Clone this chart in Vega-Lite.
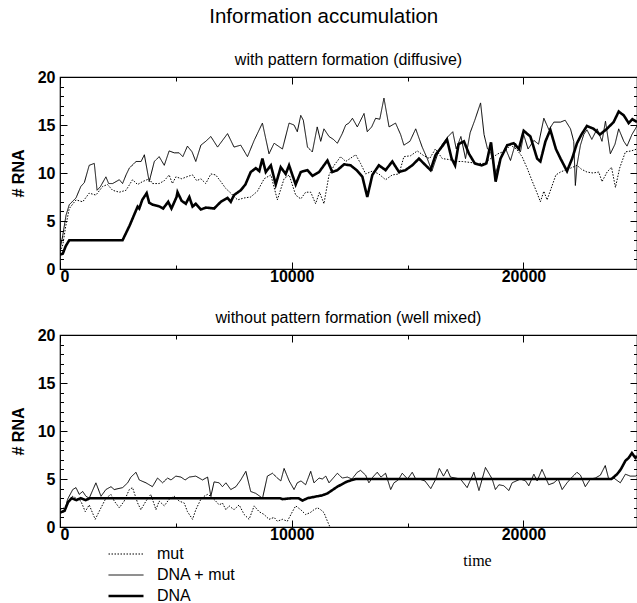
{
"$schema": "https://vega.github.io/schema/vega-lite/v6.json",
"background": "white",
"padding": {"left": 9, "top": 6, "right": 0, "bottom": 0},
"title": {"text": "Information accumulation", "fontSize": 20.5, "fontWeight": "normal", "font": "Liberation Sans", "color": "black", "anchor": "middle", "offset": 24},
"spacing": 24,
"config": {
  "view": {"stroke": "black", "strokeWidth": 1.2},
  "font": "Liberation Sans",
  "axis": {"grid": false, "domain": false, "tickColor": "black", "tickWidth": 1, "labelColor": "black", "titleColor": "black", "labelFont": "Liberation Sans", "labelFontSize": 16, "labelFontWeight": "bold", "titleFont": "Liberation Sans", "titleFontSize": 16, "titleFontWeight": "bold"},
  "title": {"fontSize": 16, "fontWeight": "normal", "color": "black", "font": "Liberation Sans"},
  "legend": {"title": null, "orient": "none", "legendX": 47, "legendY": 212, "symbolType": "stroke", "symbolSize": 1225, "symbolStrokeColor": "black", "labelFontSize": 16, "labelFont": "Liberation Sans", "labelColor": "black", "clipHeight": 14, "rowPadding": 5, "labelOffset": 12, "padding": 0}
},
"resolve": {"legend": {"strokeDash": "independent", "strokeWidth": "independent"}},
"datasets": {
"top": [
{"s":"DNA","t":0,"v":1.5},{"s":"DNA","t":120,"v":1.6},{"s":"DNA","t":250,"v":2.4},{"s":"DNA","t":400,"v":3.0},{"s":"DNA","t":2700,"v":3.0},{"s":"DNA","t":3000,"v":4.5},{"s":"DNA","t":3350,"v":6.5},{"s":"DNA","t":3420,"v":6.3},{"s":"DNA","t":3550,"v":7.2},{"s":"DNA","t":3740,"v":7.9},{"s":"DNA","t":3850,"v":6.9},{"s":"DNA","t":4000,"v":6.7},{"s":"DNA","t":4300,"v":6.5},{"s":"DNA","t":4450,"v":6.3},{"s":"DNA","t":4670,"v":7.0},{"s":"DNA","t":4810,"v":6.3},{"s":"DNA","t":5030,"v":7.5},{"s":"DNA","t":5070,"v":8.0},{"s":"DNA","t":5250,"v":7.1},{"s":"DNA","t":5430,"v":6.8},{"s":"DNA","t":5580,"v":7.5},{"s":"DNA","t":5720,"v":6.5},{"s":"DNA","t":5860,"v":6.8},{"s":"DNA","t":6080,"v":6.2},{"s":"DNA","t":6300,"v":6.4},{"s":"DNA","t":6650,"v":6.3},{"s":"DNA","t":6940,"v":7.0},{"s":"DNA","t":7230,"v":7.4},{"s":"DNA","t":7370,"v":7.0},{"s":"DNA","t":7510,"v":7.7},{"s":"DNA","t":7800,"v":8.2},{"s":"DNA","t":8000,"v":8.8},{"s":"DNA","t":8230,"v":10.1},{"s":"DNA","t":8450,"v":10.5},{"s":"DNA","t":8600,"v":10.2},{"s":"DNA","t":8735,"v":11.5},{"s":"DNA","t":8880,"v":10.1},{"s":"DNA","t":9100,"v":10.8},{"s":"DNA","t":9310,"v":8.8},{"s":"DNA","t":9525,"v":10.6},{"s":"DNA","t":9740,"v":9.9},{"s":"DNA","t":9885,"v":10.8},{"s":"DNA","t":10170,"v":8.8},{"s":"DNA","t":10390,"v":10.1},{"s":"DNA","t":10680,"v":10.3},{"s":"DNA","t":10900,"v":9.7},{"s":"DNA","t":11180,"v":10.1},{"s":"DNA","t":11540,"v":11.3},{"s":"DNA","t":11750,"v":10.1},{"s":"DNA","t":11970,"v":10.3},{"s":"DNA","t":12260,"v":10.9},{"s":"DNA","t":12540,"v":10.8},{"s":"DNA","t":12800,"v":10.3},{"s":"DNA","t":13050,"v":9.6},{"s":"DNA","t":13260,"v":7.5},{"s":"DNA","t":13480,"v":9.8},{"s":"DNA","t":13760,"v":10.8},{"s":"DNA","t":14050,"v":10.3},{"s":"DNA","t":14340,"v":11.2},{"s":"DNA","t":14630,"v":10.1},{"s":"DNA","t":14910,"v":10.3},{"s":"DNA","t":15200,"v":10.8},{"s":"DNA","t":15490,"v":11.5},{"s":"DNA","t":15780,"v":10.8},{"s":"DNA","t":15990,"v":10.3},{"s":"DNA","t":16210,"v":11.9},{"s":"DNA","t":16500,"v":12.8},{"s":"DNA","t":16700,"v":13.5},{"s":"DNA","t":16900,"v":11.5},{"s":"DNA","t":17050,"v":10.8},{"s":"DNA","t":17200,"v":13.0},{"s":"DNA","t":17430,"v":13.3},{"s":"DNA","t":17650,"v":12.0},{"s":"DNA","t":17900,"v":11.0},{"s":"DNA","t":18200,"v":10.8},{"s":"DNA","t":18400,"v":11.0},{"s":"DNA","t":18600,"v":13.2},{"s":"DNA","t":18800,"v":9.1},{"s":"DNA","t":19010,"v":11.5},{"s":"DNA","t":19300,"v":12.9},{"s":"DNA","t":19580,"v":13.1},{"s":"DNA","t":19800,"v":12.5},{"s":"DNA","t":20010,"v":14.4},{"s":"DNA","t":20300,"v":13.8},{"s":"DNA","t":20590,"v":11.5},{"s":"DNA","t":20730,"v":11.2},{"s":"DNA","t":20950,"v":13.3},{"s":"DNA","t":21160,"v":14.5},{"s":"DNA","t":21400,"v":12.5},{"s":"DNA","t":21600,"v":11.5},{"s":"DNA","t":21880,"v":10.2},{"s":"DNA","t":22100,"v":11.5},{"s":"DNA","t":22310,"v":13.1},{"s":"DNA","t":22500,"v":14.0},{"s":"DNA","t":22740,"v":14.9},{"s":"DNA","t":23030,"v":14.6},{"s":"DNA","t":23300,"v":14.0},{"s":"DNA","t":23600,"v":14.6},{"s":"DNA","t":23890,"v":15.3},{"s":"DNA","t":24110,"v":16.4},{"s":"DNA","t":24330,"v":16.0},{"s":"DNA","t":24540,"v":15.2},{"s":"DNA","t":24700,"v":15.6},{"s":"DNA","t":24900,"v":15.3},
{"s":"DNA + mut","t":0,"v":2.0},{"s":"DNA + mut","t":120,"v":3.5},{"s":"DNA + mut","t":260,"v":5.6},{"s":"DNA + mut","t":400,"v":6.7},{"s":"DNA + mut","t":690,"v":7.4},{"s":"DNA + mut","t":900,"v":8.6},{"s":"DNA + mut","t":1050,"v":9.0},{"s":"DNA + mut","t":1260,"v":10.8},{"s":"DNA + mut","t":1480,"v":11.0},{"s":"DNA + mut","t":1600,"v":8.2},{"s":"DNA + mut","t":1750,"v":8.6},{"s":"DNA + mut","t":1980,"v":9.6},{"s":"DNA + mut","t":2100,"v":8.9},{"s":"DNA + mut","t":2270,"v":8.9},{"s":"DNA + mut","t":2560,"v":9.3},{"s":"DNA + mut","t":2700,"v":8.9},{"s":"DNA + mut","t":2850,"v":9.8},{"s":"DNA + mut","t":2990,"v":10.5},{"s":"DNA + mut","t":3280,"v":11.2},{"s":"DNA + mut","t":3500,"v":11.2},{"s":"DNA + mut","t":3640,"v":11.9},{"s":"DNA + mut","t":3850,"v":9.1},{"s":"DNA + mut","t":4070,"v":11.2},{"s":"DNA + mut","t":4280,"v":11.7},{"s":"DNA + mut","t":4500,"v":10.8},{"s":"DNA + mut","t":4710,"v":12.3},{"s":"DNA + mut","t":4930,"v":12.1},{"s":"DNA + mut","t":5140,"v":12.1},{"s":"DNA + mut","t":5300,"v":11.7},{"s":"DNA + mut","t":5500,"v":12.8},{"s":"DNA + mut","t":5700,"v":12.2},{"s":"DNA + mut","t":5860,"v":11.2},{"s":"DNA + mut","t":6080,"v":12.9},{"s":"DNA + mut","t":6290,"v":13.3},{"s":"DNA + mut","t":6510,"v":13.8},{"s":"DNA + mut","t":6800,"v":12.7},{"s":"DNA + mut","t":7230,"v":14.1},{"s":"DNA + mut","t":7510,"v":12.7},{"s":"DNA + mut","t":7800,"v":12.9},{"s":"DNA + mut","t":8090,"v":11.7},{"s":"DNA + mut","t":8380,"v":13.4},{"s":"DNA + mut","t":8735,"v":15.2},{"s":"DNA + mut","t":9020,"v":12.0},{"s":"DNA + mut","t":9240,"v":13.1},{"s":"DNA + mut","t":9600,"v":12.5},{"s":"DNA + mut","t":9885,"v":15.2},{"s":"DNA + mut","t":10100,"v":15.0},{"s":"DNA + mut","t":10240,"v":14.3},{"s":"DNA + mut","t":10390,"v":16.0},{"s":"DNA + mut","t":10500,"v":15.5},{"s":"DNA + mut","t":10680,"v":12.7},{"s":"DNA + mut","t":10890,"v":12.2},{"s":"DNA + mut","t":11100,"v":14.8},{"s":"DNA + mut","t":11250,"v":13.3},{"s":"DNA + mut","t":11390,"v":14.6},{"s":"DNA + mut","t":11610,"v":13.8},{"s":"DNA + mut","t":11800,"v":13.5},{"s":"DNA + mut","t":11970,"v":13.1},{"s":"DNA + mut","t":12180,"v":14.1},{"s":"DNA + mut","t":12330,"v":15.0},{"s":"DNA + mut","t":12470,"v":15.2},{"s":"DNA + mut","t":12620,"v":15.7},{"s":"DNA + mut","t":12830,"v":14.8},{"s":"DNA + mut","t":13120,"v":16.2},{"s":"DNA + mut","t":13260,"v":14.3},{"s":"DNA + mut","t":13450,"v":14.8},{"s":"DNA + mut","t":13620,"v":15.7},{"s":"DNA + mut","t":13800,"v":15.6},{"s":"DNA + mut","t":13980,"v":17.8},{"s":"DNA + mut","t":14200,"v":14.8},{"s":"DNA + mut","t":14480,"v":15.2},{"s":"DNA + mut","t":14700,"v":14.0},{"s":"DNA + mut","t":14840,"v":12.9},{"s":"DNA + mut","t":15100,"v":13.3},{"s":"DNA + mut","t":15350,"v":14.6},{"s":"DNA + mut","t":15630,"v":12.7},{"s":"DNA + mut","t":15850,"v":11.5},{"s":"DNA + mut","t":16050,"v":10.2},{"s":"DNA + mut","t":16300,"v":12.0},{"s":"DNA + mut","t":16500,"v":13.0},{"s":"DNA + mut","t":16750,"v":13.8},{"s":"DNA + mut","t":16950,"v":14.3},{"s":"DNA + mut","t":17100,"v":12.5},{"s":"DNA + mut","t":17300,"v":13.8},{"s":"DNA + mut","t":17500,"v":11.5},{"s":"DNA + mut","t":17700,"v":14.2},{"s":"DNA + mut","t":17900,"v":15.5},{"s":"DNA + mut","t":18150,"v":17.3},{"s":"DNA + mut","t":18300,"v":14.0},{"s":"DNA + mut","t":18450,"v":12.5},{"s":"DNA + mut","t":18580,"v":12.2},{"s":"DNA + mut","t":18800,"v":10.0},{"s":"DNA + mut","t":19000,"v":11.5},{"s":"DNA + mut","t":19220,"v":12.6},{"s":"DNA + mut","t":19440,"v":11.3},{"s":"DNA + mut","t":19660,"v":13.1},{"s":"DNA + mut","t":19870,"v":12.2},{"s":"DNA + mut","t":20010,"v":14.0},{"s":"DNA + mut","t":20200,"v":12.5},{"s":"DNA + mut","t":20450,"v":13.4},{"s":"DNA + mut","t":20650,"v":13.0},{"s":"DNA + mut","t":20880,"v":15.7},{"s":"DNA + mut","t":21100,"v":14.5},{"s":"DNA + mut","t":21310,"v":15.3},{"s":"DNA + mut","t":21600,"v":15.3},{"s":"DNA + mut","t":21800,"v":15.5},{"s":"DNA + mut","t":22030,"v":14.6},{"s":"DNA + mut","t":22170,"v":13.3},{"s":"DNA + mut","t":22240,"v":8.7},{"s":"DNA + mut","t":22310,"v":10.8},{"s":"DNA + mut","t":22460,"v":12.9},{"s":"DNA + mut","t":22600,"v":14.0},{"s":"DNA + mut","t":22740,"v":14.5},{"s":"DNA + mut","t":22950,"v":13.5},{"s":"DNA + mut","t":23180,"v":14.6},{"s":"DNA + mut","t":23390,"v":13.3},{"s":"DNA + mut","t":23540,"v":15.4},{"s":"DNA + mut","t":23750,"v":12.0},{"s":"DNA + mut","t":23950,"v":13.0},{"s":"DNA + mut","t":24110,"v":14.6},{"s":"DNA + mut","t":24330,"v":13.3},{"s":"DNA + mut","t":24470,"v":12.8},{"s":"DNA + mut","t":24680,"v":14.0},{"s":"DNA + mut","t":24900,"v":14.9},
{"s":"mut","t":0,"v":1.8},{"s":"mut","t":120,"v":2.5},{"s":"mut","t":250,"v":4.5},{"s":"mut","t":400,"v":6.3},{"s":"mut","t":690,"v":7.2},{"s":"mut","t":980,"v":7.0},{"s":"mut","t":1260,"v":7.9},{"s":"mut","t":1550,"v":7.7},{"s":"mut","t":1840,"v":8.6},{"s":"mut","t":2050,"v":8.8},{"s":"mut","t":2270,"v":8.2},{"s":"mut","t":2560,"v":8.0},{"s":"mut","t":2850,"v":8.2},{"s":"mut","t":3130,"v":9.3},{"s":"mut","t":3350,"v":8.8},{"s":"mut","t":3560,"v":9.1},{"s":"mut","t":3850,"v":9.4},{"s":"mut","t":3990,"v":8.9},{"s":"mut","t":4280,"v":8.9},{"s":"mut","t":4500,"v":9.2},{"s":"mut","t":4710,"v":9.8},{"s":"mut","t":4850,"v":8.9},{"s":"mut","t":5000,"v":9.6},{"s":"mut","t":5250,"v":9.4},{"s":"mut","t":5580,"v":9.7},{"s":"mut","t":5720,"v":9.8},{"s":"mut","t":5900,"v":9.2},{"s":"mut","t":6080,"v":9.4},{"s":"mut","t":6290,"v":8.9},{"s":"mut","t":6510,"v":9.9},{"s":"mut","t":6720,"v":9.8},{"s":"mut","t":6940,"v":9.1},{"s":"mut","t":7150,"v":8.4},{"s":"mut","t":7370,"v":7.9},{"s":"mut","t":7660,"v":7.2},{"s":"mut","t":7950,"v":7.4},{"s":"mut","t":8230,"v":7.5},{"s":"mut","t":8520,"v":8.1},{"s":"mut","t":8810,"v":9.4},{"s":"mut","t":9100,"v":9.8},{"s":"mut","t":9380,"v":7.2},{"s":"mut","t":9670,"v":9.4},{"s":"mut","t":9890,"v":9.8},{"s":"mut","t":10170,"v":7.7},{"s":"mut","t":10390,"v":7.3},{"s":"mut","t":10600,"v":8.0},{"s":"mut","t":10820,"v":8.0},{"s":"mut","t":11030,"v":6.8},{"s":"mut","t":11200,"v":8.0},{"s":"mut","t":11390,"v":6.8},{"s":"mut","t":11610,"v":9.8},{"s":"mut","t":11830,"v":10.8},{"s":"mut","t":12110,"v":11.7},{"s":"mut","t":12330,"v":11.2},{"s":"mut","t":12760,"v":11.9},{"s":"mut","t":12970,"v":11.0},{"s":"mut","t":13190,"v":9.9},{"s":"mut","t":13480,"v":10.2},{"s":"mut","t":13760,"v":9.9},{"s":"mut","t":14050,"v":9.3},{"s":"mut","t":14340,"v":9.8},{"s":"mut","t":14630,"v":9.9},{"s":"mut","t":14840,"v":11.7},{"s":"mut","t":15130,"v":11.8},{"s":"mut","t":15420,"v":12.3},{"s":"mut","t":15700,"v":11.8},{"s":"mut","t":15950,"v":11.5},{"s":"mut","t":16200,"v":12.5},{"s":"mut","t":16500,"v":11.5},{"s":"mut","t":16800,"v":11.4},{"s":"mut","t":17070,"v":11.2},{"s":"mut","t":17360,"v":11.2},{"s":"mut","t":17700,"v":11.1},{"s":"mut","t":18000,"v":11.0},{"s":"mut","t":18290,"v":11.0},{"s":"mut","t":18580,"v":11.5},{"s":"mut","t":18900,"v":12.0},{"s":"mut","t":19200,"v":12.3},{"s":"mut","t":19440,"v":12.9},{"s":"mut","t":19700,"v":12.5},{"s":"mut","t":19940,"v":11.7},{"s":"mut","t":20160,"v":10.5},{"s":"mut","t":20370,"v":9.2},{"s":"mut","t":20590,"v":7.9},{"s":"mut","t":20730,"v":7.0},{"s":"mut","t":20880,"v":8.1},{"s":"mut","t":21020,"v":7.2},{"s":"mut","t":21240,"v":8.7},{"s":"mut","t":21400,"v":9.8},{"s":"mut","t":21600,"v":10.1},{"s":"mut","t":21800,"v":10.3},{"s":"mut","t":22030,"v":10.5},{"s":"mut","t":22310,"v":10.8},{"s":"mut","t":22500,"v":10.4},{"s":"mut","t":22740,"v":10.1},{"s":"mut","t":23000,"v":10.0},{"s":"mut","t":23250,"v":10.1},{"s":"mut","t":23390,"v":9.1},{"s":"mut","t":23610,"v":10.1},{"s":"mut","t":23800,"v":10.6},{"s":"mut","t":23970,"v":8.5},{"s":"mut","t":24150,"v":10.5},{"s":"mut","t":24400,"v":12.2},{"s":"mut","t":24650,"v":12.3},{"s":"mut","t":24900,"v":12.5}
],
"bot": [
{"s":"DNA","t":0,"v":1.5},{"s":"DNA","t":200,"v":1.7},{"s":"DNA","t":350,"v":2.6},{"s":"DNA","t":500,"v":3.0},{"s":"DNA","t":700,"v":2.8},{"s":"DNA","t":900,"v":3.0},{"s":"DNA","t":1100,"v":2.8},{"s":"DNA","t":1300,"v":3.0},{"s":"DNA","t":9500,"v":3.0},{"s":"DNA","t":9600,"v":2.9},{"s":"DNA","t":10000,"v":3.0},{"s":"DNA","t":10300,"v":3.0},{"s":"DNA","t":10460,"v":2.75},{"s":"DNA","t":10680,"v":3.0},{"s":"DNA","t":11100,"v":3.2},{"s":"DNA","t":11320,"v":3.3},{"s":"DNA","t":11540,"v":3.5},{"s":"DNA","t":11970,"v":4.2},{"s":"DNA","t":12400,"v":4.75},{"s":"DNA","t":12760,"v":5.0},{"s":"DNA","t":23800,"v":5.0},{"s":"DNA","t":24040,"v":5.5},{"s":"DNA","t":24200,"v":6.0},{"s":"DNA","t":24400,"v":6.9},{"s":"DNA","t":24540,"v":7.2},{"s":"DNA","t":24680,"v":7.7},{"s":"DNA","t":24830,"v":7.2},{"s":"DNA","t":24900,"v":7.4},
{"s":"DNA + mut","t":0,"v":1.5},{"s":"DNA + mut","t":190,"v":1.6},{"s":"DNA + mut","t":330,"v":2.9},{"s":"DNA + mut","t":550,"v":3.9},{"s":"DNA + mut","t":690,"v":4.1},{"s":"DNA + mut","t":830,"v":3.4},{"s":"DNA + mut","t":980,"v":3.7},{"s":"DNA + mut","t":1120,"v":3.2},{"s":"DNA + mut","t":1260,"v":3.0},{"s":"DNA + mut","t":1550,"v":4.6},{"s":"DNA + mut","t":1770,"v":3.2},{"s":"DNA + mut","t":1980,"v":3.9},{"s":"DNA + mut","t":2200,"v":4.2},{"s":"DNA + mut","t":2340,"v":3.9},{"s":"DNA + mut","t":2700,"v":4.1},{"s":"DNA + mut","t":2920,"v":4.6},{"s":"DNA + mut","t":3060,"v":5.2},{"s":"DNA + mut","t":3280,"v":5.7},{"s":"DNA + mut","t":3420,"v":4.9},{"s":"DNA + mut","t":3710,"v":4.6},{"s":"DNA + mut","t":3990,"v":4.2},{"s":"DNA + mut","t":4210,"v":5.1},{"s":"DNA + mut","t":4430,"v":4.6},{"s":"DNA + mut","t":4640,"v":5.1},{"s":"DNA + mut","t":4790,"v":4.9},{"s":"DNA + mut","t":5000,"v":5.3},{"s":"DNA + mut","t":5220,"v":5.2},{"s":"DNA + mut","t":5400,"v":4.9},{"s":"DNA + mut","t":5580,"v":5.2},{"s":"DNA + mut","t":5860,"v":5.3},{"s":"DNA + mut","t":6150,"v":4.9},{"s":"DNA + mut","t":6370,"v":5.2},{"s":"DNA + mut","t":6510,"v":3.2},{"s":"DNA + mut","t":6650,"v":4.7},{"s":"DNA + mut","t":6870,"v":4.6},{"s":"DNA + mut","t":7010,"v":4.2},{"s":"DNA + mut","t":7160,"v":4.6},{"s":"DNA + mut","t":7370,"v":3.9},{"s":"DNA + mut","t":7590,"v":4.2},{"s":"DNA + mut","t":7800,"v":4.9},{"s":"DNA + mut","t":8020,"v":5.8},{"s":"DNA + mut","t":8230,"v":3.7},{"s":"DNA + mut","t":8450,"v":3.5},{"s":"DNA + mut","t":8740,"v":3.0},{"s":"DNA + mut","t":8950,"v":5.3},{"s":"DNA + mut","t":9170,"v":5.6},{"s":"DNA + mut","t":9380,"v":5.1},{"s":"DNA + mut","t":9530,"v":4.8},{"s":"DNA + mut","t":9670,"v":6.1},{"s":"DNA + mut","t":9890,"v":4.8},{"s":"DNA + mut","t":10100,"v":3.9},{"s":"DNA + mut","t":10240,"v":4.6},{"s":"DNA + mut","t":10400,"v":4.8},{"s":"DNA + mut","t":10600,"v":4.4},{"s":"DNA + mut","t":10820,"v":5.8},{"s":"DNA + mut","t":10960,"v":4.6},{"s":"DNA + mut","t":11180,"v":5.1},{"s":"DNA + mut","t":11320,"v":5.0},{"s":"DNA + mut","t":11470,"v":5.3},{"s":"DNA + mut","t":11610,"v":4.6},{"s":"DNA + mut","t":11970,"v":5.6},{"s":"DNA + mut","t":12180,"v":5.1},{"s":"DNA + mut","t":12400,"v":5.2},{"s":"DNA + mut","t":12600,"v":5.0},{"s":"DNA + mut","t":12830,"v":5.7},{"s":"DNA + mut","t":12970,"v":5.9},{"s":"DNA + mut","t":13190,"v":5.4},{"s":"DNA + mut","t":13330,"v":4.6},{"s":"DNA + mut","t":13500,"v":5.2},{"s":"DNA + mut","t":13690,"v":5.7},{"s":"DNA + mut","t":13850,"v":5.2},{"s":"DNA + mut","t":14050,"v":5.6},{"s":"DNA + mut","t":14270,"v":3.9},{"s":"DNA + mut","t":14410,"v":4.6},{"s":"DNA + mut","t":14600,"v":4.9},{"s":"DNA + mut","t":14770,"v":5.6},{"s":"DNA + mut","t":15000,"v":5.0},{"s":"DNA + mut","t":15200,"v":5.7},{"s":"DNA + mut","t":15350,"v":5.0},{"s":"DNA + mut","t":15490,"v":5.0},{"s":"DNA + mut","t":15750,"v":4.8},{"s":"DNA + mut","t":16000,"v":4.0},{"s":"DNA + mut","t":16220,"v":5.0},{"s":"DNA + mut","t":16370,"v":6.1},{"s":"DNA + mut","t":16550,"v":5.3},{"s":"DNA + mut","t":16710,"v":6.0},{"s":"DNA + mut","t":16850,"v":5.2},{"s":"DNA + mut","t":17280,"v":5.0},{"s":"DNA + mut","t":17570,"v":4.1},{"s":"DNA + mut","t":17860,"v":5.7},{"s":"DNA + mut","t":18080,"v":3.8},{"s":"DNA + mut","t":18360,"v":6.2},{"s":"DNA + mut","t":18650,"v":5.0},{"s":"DNA + mut","t":18790,"v":3.9},{"s":"DNA + mut","t":18940,"v":4.4},{"s":"DNA + mut","t":19150,"v":4.3},{"s":"DNA + mut","t":19370,"v":3.8},{"s":"DNA + mut","t":19510,"v":4.6},{"s":"DNA + mut","t":19870,"v":5.0},{"s":"DNA + mut","t":20090,"v":4.8},{"s":"DNA + mut","t":20230,"v":4.3},{"s":"DNA + mut","t":20450,"v":5.5},{"s":"DNA + mut","t":20590,"v":4.8},{"s":"DNA + mut","t":20800,"v":6.0},{"s":"DNA + mut","t":21090,"v":4.4},{"s":"DNA + mut","t":21310,"v":4.6},{"s":"DNA + mut","t":21500,"v":5.0},{"s":"DNA + mut","t":21670,"v":3.9},{"s":"DNA + mut","t":21880,"v":4.6},{"s":"DNA + mut","t":22100,"v":5.2},{"s":"DNA + mut","t":22310,"v":5.7},{"s":"DNA + mut","t":22460,"v":5.4},{"s":"DNA + mut","t":22670,"v":4.2},{"s":"DNA + mut","t":22890,"v":5.0},{"s":"DNA + mut","t":23100,"v":5.1},{"s":"DNA + mut","t":23320,"v":5.4},{"s":"DNA + mut","t":23530,"v":6.4},{"s":"DNA + mut","t":23680,"v":5.0},{"s":"DNA + mut","t":23900,"v":5.1},{"s":"DNA + mut","t":24180,"v":4.6},{"s":"DNA + mut","t":24400,"v":5.5},{"s":"DNA + mut","t":24610,"v":5.3},{"s":"DNA + mut","t":24830,"v":5.3},{"s":"DNA + mut","t":24900,"v":5.4},
{"s":"mut","t":0,"v":1.8},{"s":"mut","t":190,"v":2.0},{"s":"mut","t":550,"v":3.2},{"s":"mut","t":900,"v":2.7},{"s":"mut","t":1090,"v":1.6},{"s":"mut","t":1260,"v":2.3},{"s":"mut","t":1520,"v":0.8},{"s":"mut","t":1770,"v":2.0},{"s":"mut","t":1980,"v":3.0},{"s":"mut","t":2200,"v":3.4},{"s":"mut","t":2340,"v":2.7},{"s":"mut","t":2560,"v":2.0},{"s":"mut","t":2770,"v":2.7},{"s":"mut","t":2990,"v":3.9},{"s":"mut","t":3130,"v":4.1},{"s":"mut","t":3350,"v":2.5},{"s":"mut","t":3490,"v":1.8},{"s":"mut","t":3710,"v":2.7},{"s":"mut","t":3920,"v":3.4},{"s":"mut","t":4140,"v":1.8},{"s":"mut","t":4280,"v":2.7},{"s":"mut","t":4500,"v":2.2},{"s":"mut","t":4710,"v":2.9},{"s":"mut","t":4930,"v":3.2},{"s":"mut","t":5140,"v":2.7},{"s":"mut","t":5360,"v":2.5},{"s":"mut","t":5500,"v":1.6},{"s":"mut","t":5720,"v":0.8},{"s":"mut","t":5860,"v":1.8},{"s":"mut","t":6080,"v":2.9},{"s":"mut","t":6220,"v":3.2},{"s":"mut","t":6370,"v":3.4},{"s":"mut","t":6510,"v":3.2},{"s":"mut","t":6720,"v":2.7},{"s":"mut","t":6870,"v":2.3},{"s":"mut","t":7010,"v":2.5},{"s":"mut","t":7160,"v":1.8},{"s":"mut","t":7300,"v":2.2},{"s":"mut","t":7510,"v":1.8},{"s":"mut","t":7730,"v":2.3},{"s":"mut","t":7950,"v":1.3},{"s":"mut","t":8160,"v":0.8},{"s":"mut","t":8380,"v":2.2},{"s":"mut","t":8590,"v":1.6},{"s":"mut","t":8810,"v":1.3},{"s":"mut","t":9020,"v":0.8},{"s":"mut","t":9240,"v":1.0},{"s":"mut","t":9380,"v":0.6},{"s":"mut","t":9600,"v":0.8},{"s":"mut","t":9810,"v":0.6},{"s":"mut","t":10030,"v":1.6},{"s":"mut","t":10170,"v":2.2},{"s":"mut","t":10390,"v":1.8},{"s":"mut","t":10600,"v":1.3},{"s":"mut","t":10800,"v":1.5},{"s":"mut","t":10960,"v":1.8},{"s":"mut","t":11110,"v":2.0},{"s":"mut","t":11250,"v":1.8},{"s":"mut","t":11390,"v":1.5},{"s":"mut","t":11540,"v":0.6},{"s":"mut","t":11650,"v":0.0}
]
},
"vconcat": [
{
  "title": {"text": "with pattern formation (diffusive)", "anchor": "middle", "frame": "group", "offset": 1},
  "width": 577, "height": 192,
  "data": {"name": "top"},
  "layer": [
    {"mark": {"type": "line", "color": "black", "clip": true},
     "encoding": {
       "x": {"field": "t", "type": "quantitative", "scale": {"domain": [0, 24900], "nice": false, "zero": false},
             "axis": {"orient": "bottom", "title": null, "values": [0, 5000, 10000, 15000, 20000], "format": "d", "labelExpr": "datum.value % 10000 === 0 ? datum.label : ''", "tickSize": {"condition": {"test": "datum.value % 10000 === 0", "value": -7}, "value": -4}, "labelPadding": 6}},
       "y": {"field": "v", "type": "quantitative", "scale": {"domain": [0, 20], "nice": false},
             "axis": {"orient": "left", "title": "# RNA", "titleX": -42, "titleY": 96, "titleAngle": -90, "titleBaseline": "middle", "titleAlign": "center", "values": [0,1,2,3,4,5,6,7,8,9,10,11,12,13,14,15,16,17,18,19,20], "labelExpr": "datum.value % 5 === 0 ? datum.label : ''", "tickSize": {"condition": {"test": "datum.value % 5 === 0", "value": -7}, "value": -3.5}, "labelPadding": 12}},
       "strokeDash": {"field": "s", "type": "nominal", "scale": {"domain": ["mut", "DNA + mut", "DNA"], "range": [[1.5, 1.5], [1, 0], [1, 0]]}, "legend": null},
       "strokeWidth": {"field": "s", "type": "nominal", "scale": {"type": "ordinal", "domain": ["mut", "DNA + mut", "DNA"], "range": [1, 1, 2.6]}, "legend": null}
     }},
    {"mark": {"type": "line", "opacity": 0},
     "encoding": {
       "x": {"field": "t", "type": "quantitative", "axis": {"orient": "top", "title": null, "labels": false, "values": [0, 5000, 10000, 15000, 20000], "tickSize": {"condition": {"test": "datum.value % 10000 === 0", "value": -7}, "value": -4}}},
       "y": {"field": "v", "type": "quantitative", "axis": {"orient": "right", "title": null, "labels": false, "values": [0,1,2,3,4,5,6,7,8,9,10,11,12,13,14,15,16,17,18,19,20], "tickSize": {"condition": {"test": "datum.value % 5 === 0", "value": -7}, "value": -3.5}}}
     }}
  ],
  "resolve": {"axis": {"x": "independent", "y": "independent"}}
},
{
  "title": {"text": "without pattern formation (well mixed)", "anchor": "middle", "frame": "group", "offset": 1},
  "width": 577, "height": 192,
  "data": {"name": "bot"},
  "layer": [
    {"mark": {"type": "line", "color": "black", "clip": true},
     "encoding": {
       "x": {"field": "t", "type": "quantitative", "scale": {"domain": [0, 24900], "nice": false, "zero": false},
             "axis": {"orient": "bottom", "title": "time", "titleFont": "Liberation Serif", "titleFontWeight": "normal", "titleFontSize": 16, "titleX": 417, "titleY": 33, "titleBaseline": "middle", "titleAlign": "center", "values": [0, 5000, 10000, 15000, 20000], "format": "d", "labelExpr": "datum.value % 10000 === 0 ? datum.label : ''", "tickSize": {"condition": {"test": "datum.value % 10000 === 0", "value": -7}, "value": -4}, "labelPadding": 6}},
       "y": {"field": "v", "type": "quantitative", "scale": {"domain": [0, 20], "nice": false},
             "axis": {"orient": "left", "title": "# RNA", "titleX": -42, "titleY": 96, "titleAngle": -90, "titleBaseline": "middle", "titleAlign": "center", "values": [0,1,2,3,4,5,6,7,8,9,10,11,12,13,14,15,16,17,18,19,20], "labelExpr": "datum.value % 5 === 0 ? datum.label : ''", "tickSize": {"condition": {"test": "datum.value % 5 === 0", "value": -7}, "value": -3.5}, "labelPadding": 12}},
       "strokeDash": {"field": "s", "type": "nominal", "scale": {"domain": ["mut", "DNA + mut", "DNA"], "range": [[1.5, 1.5], [1, 0], [1, 0]]}, "legend": {"title": null}},
       "strokeWidth": {"field": "s", "type": "nominal", "scale": {"type": "ordinal", "domain": ["mut", "DNA + mut", "DNA"], "range": [1, 1, 2.6]}, "legend": {"title": null}}
     }},
    {"mark": {"type": "line", "opacity": 0},
     "encoding": {
       "x": {"field": "t", "type": "quantitative", "axis": {"orient": "top", "title": null, "labels": false, "values": [0, 5000, 10000, 15000, 20000], "tickSize": {"condition": {"test": "datum.value % 10000 === 0", "value": -7}, "value": -4}}},
       "y": {"field": "v", "type": "quantitative", "axis": {"orient": "right", "title": null, "labels": false, "values": [0,1,2,3,4,5,6,7,8,9,10,11,12,13,14,15,16,17,18,19,20], "tickSize": {"condition": {"test": "datum.value % 5 === 0", "value": -7}, "value": -3.5}}}
     }}
  ],
  "resolve": {"axis": {"x": "independent", "y": "independent"}}
}
]
}
